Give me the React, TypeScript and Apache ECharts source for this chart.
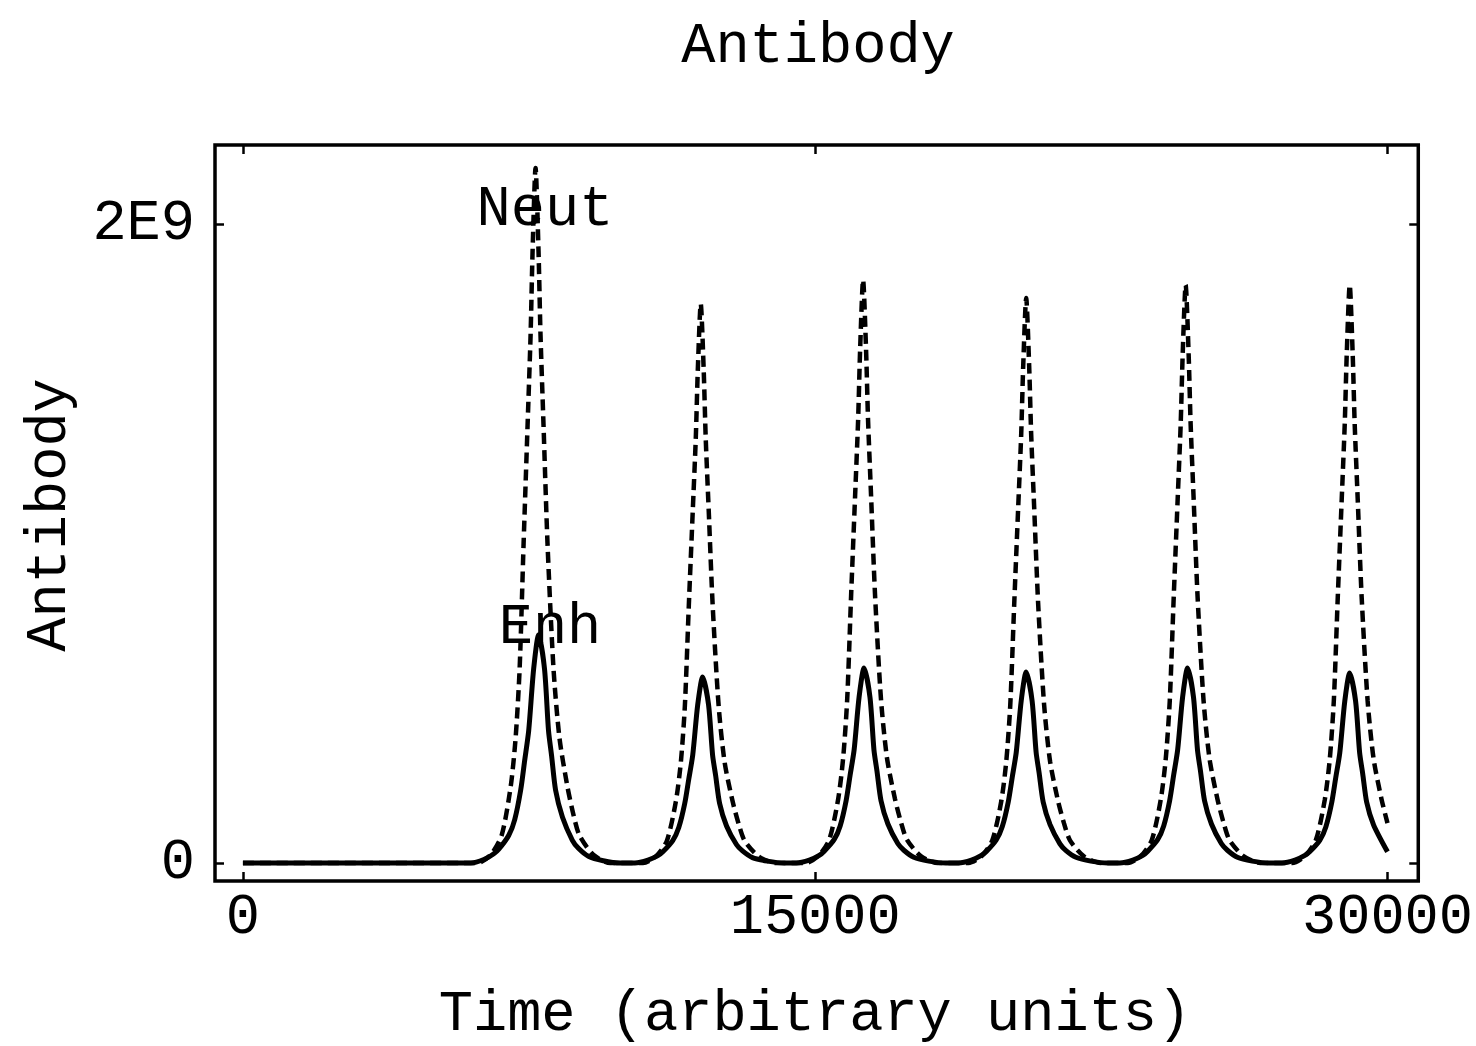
import React, { useEffect, useRef } from "react";
import * as echarts from "echarts";

// Axis ticks and labels
const xTickValues = [0, 15000, 30000];
const xTickLabels = ["0", "15000", "30000"];
const yTickValues = [0, 2];
const yTickLabels = ["0", "2E9"];

const chartTitle = "Antibody";
const xAxisTitle = "Time (arbitrary units)";
const yAxisTitle = "Antibody";
const seriesNames = ["Enh", "Neut"];

// Enh (solid) — time, antibody (in units of 1E9)
const enhStart = [[0, 0]];
const enhPeak1 = [[5975, 0], [6315, 0.011], [6575, 0.029], [6706, 0.043], [6965, 0.086], [7124, 0.136], [7280, 0.228], [7385, 0.321], [7490, 0.414], [7620, 0.607], [7750, 0.714], [7905, 0.607], [8010, 0.414], [8090, 0.336], [8195, 0.228], [8376, 0.143], [8635, 0.071], [8794, 0.046], [9055, 0.021], [9445, 0.007], [9890, 0]];
const enhPeak2 = [[10275, 0], [10615, 0.009], [10875, 0.023], [11006, 0.035], [11265, 0.07], [11424, 0.111], [11580, 0.186], [11685, 0.262], [11790, 0.338], [11920, 0.495], [12050, 0.582], [12205, 0.495], [12310, 0.338], [12390, 0.274], [12495, 0.186], [12676, 0.116], [12935, 0.058], [13094, 0.038], [13355, 0.017], [13745, 0.006], [14190, 0]];
const enhPeak3 = [[14505, 0], [14845, 0.009], [15105, 0.024], [15236, 0.037], [15495, 0.073], [15654, 0.116], [15810, 0.195], [15915, 0.275], [16020, 0.354], [16150, 0.519], [16280, 0.61], [16435, 0.519], [16540, 0.354], [16620, 0.287], [16725, 0.195], [16906, 0.122], [17165, 0.061], [17324, 0.04], [17585, 0.018], [17975, 0.006], [18420, 0]];
const enhPeak4 = [[18755, 0], [19095, 0.009], [19355, 0.024], [19486, 0.036], [19745, 0.072], [19904, 0.114], [20060, 0.191], [20165, 0.269], [20270, 0.347], [20400, 0.508], [20530, 0.598], [20685, 0.508], [20790, 0.347], [20870, 0.281], [20975, 0.191], [21156, 0.12], [21415, 0.06], [21574, 0.039], [21835, 0.018], [22225, 0.006], [22670, 0]];
const enhPeak5 = [[22985, 0], [23325, 0.009], [23585, 0.024], [23716, 0.037], [23975, 0.073], [24134, 0.116], [24290, 0.195], [24395, 0.275], [24500, 0.354], [24630, 0.519], [24760, 0.61], [24915, 0.519], [25020, 0.354], [25100, 0.287], [25205, 0.195], [25386, 0.122], [25645, 0.061], [25804, 0.04], [26065, 0.018], [26455, 0.006], [26900, 0]];
const enhPeak6 = [[27235, 0], [27575, 0.009], [27835, 0.024], [27966, 0.036], [28225, 0.071], [28384, 0.113], [28540, 0.19], [28645, 0.268], [28750, 0.345], [28880, 0.506], [29010, 0.595], [29165, 0.506], [29270, 0.345], [29350, 0.28], [29455, 0.19], [29636, 0.119], [30000, 0.035]];

// Neut (dashed) — time, antibody (in units of 1E9)
const neutStart = [[0, 0]];
const neutPeak1 = [[6157, 0], [6496, 0.026], [6783, 0.087], [7018, 0.239], [7148, 0.392], [7253, 0.609], [7357, 1.001], [7461, 1.37], [7540, 1.653], [7592, 1.914], [7670, 2.175], [7748, 1.914], [7800, 1.653], [7879, 1.37], [7983, 1.001], [8140, 0.609], [8296, 0.392], [8505, 0.239], [8662, 0.152], [8818, 0.087], [9183, 0.026], [9627, 0]];
const neutPeak2 = [[10487, 0], [10826, 0.021], [11113, 0.07], [11348, 0.193], [11478, 0.315], [11583, 0.49], [11687, 0.805], [11791, 1.103], [11870, 1.33], [11922, 1.54], [12000, 1.75], [12078, 1.54], [12130, 1.33], [12209, 1.103], [12313, 0.805], [12470, 0.49], [12626, 0.315], [12835, 0.193], [12992, 0.123], [13148, 0.07], [13513, 0.021], [13957, 0]];
const neutPeak3 = [[14742, 0], [15081, 0.022], [15368, 0.073], [15603, 0.201], [15733, 0.329], [15838, 0.511], [15942, 0.84], [16046, 1.15], [16125, 1.387], [16177, 1.606], [16255, 1.825], [16333, 1.606], [16385, 1.387], [16464, 1.15], [16568, 0.84], [16725, 0.511], [16881, 0.329], [17090, 0.201], [17247, 0.128], [17403, 0.073], [17768, 0.022], [18212, 0]];
const neutPeak4 = [[19017, 0], [19356, 0.021], [19643, 0.071], [19878, 0.194], [20008, 0.318], [20113, 0.495], [20217, 0.813], [20321, 1.114], [20400, 1.344], [20452, 1.556], [20530, 1.768], [20608, 1.556], [20660, 1.344], [20739, 1.114], [20843, 0.813], [21000, 0.495], [21156, 0.318], [21365, 0.194], [21522, 0.124], [21678, 0.071], [22043, 0.021], [22487, 0]];
const neutPeak5 = [[23197, 0], [23536, 0.022], [23823, 0.072], [24058, 0.199], [24188, 0.326], [24293, 0.507], [24397, 0.832], [24501, 1.14], [24580, 1.375], [24632, 1.592], [24710, 1.809], [24788, 1.592], [24840, 1.375], [24919, 1.14], [25023, 0.832], [25180, 0.507], [25336, 0.326], [25545, 0.199], [25702, 0.127], [25858, 0.072], [26223, 0.022], [26667, 0]];
const neutPeak6 = [[27497, 0], [27836, 0.022], [28123, 0.072], [28358, 0.199], [28488, 0.326], [28593, 0.507], [28697, 0.832], [28801, 1.14], [28880, 1.375], [28932, 1.592], [29010, 1.809], [29088, 1.592], [29140, 1.375], [29219, 1.14], [29323, 0.832], [29480, 0.507], [29636, 0.326], [29845, 0.199], [30000, 0.125]];

const enhData = [...enhStart, ...enhPeak1, ...enhPeak2, ...enhPeak3, ...enhPeak4, ...enhPeak5, ...enhPeak6];
const neutData = [...neutStart, ...neutPeak1, ...neutPeak2, ...neutPeak3, ...neutPeak4, ...neutPeak5, ...neutPeak6];

const FONT = "'Liberation Mono', 'DejaVu Sans Mono', monospace";
const FS = 57;

export default function App() {
  const ref = useRef<HTMLDivElement>(null);
  useEffect(() => {
    if (!ref.current) return;
    const chart = echarts.init(ref.current, null, { renderer: "svg" });
    const xMin = -732;
    const xMax = 30807;
    const yMin = -0.0563;
    const yMax = 2.247;
    const tickStyle = { color: "#000", width: 2.5 };
    const hiddenLine = { show: false, onZero: false };
    chart.setOption({
      animation: false,
      backgroundColor: "#fff",
      grid: {
        left: 215,
        top: 145,
        width: 1207,
        height: 736,
        show: true,
        borderColor: "#000",
        borderWidth: 3.5,
        backgroundColor: "transparent",
      },
      xAxis: [
        {
          type: "value",
          min: xMin,
          max: xMax,
          axisLine: hiddenLine,
          splitLine: { show: false },
          axisTick: { show: true, inside: true, length: 9, lineStyle: tickStyle, customValues: xTickValues },
          axisLabel: {
            show: true,
            customValues: xTickValues,
            formatter: (v: number) => xTickLabels[xTickValues.indexOf(v)] ?? "",
            fontFamily: FONT,
            fontSize: FS,
            color: "#000",
            margin: 8,
            showMinLabel: true,
            showMaxLabel: true,
          },
        },
        {
          type: "value",
          position: "top",
          min: xMin,
          max: xMax,
          axisLine: hiddenLine,
          splitLine: { show: false },
          axisTick: { show: true, inside: true, length: 9, lineStyle: tickStyle, customValues: xTickValues },
          axisLabel: { show: false },
        },
      ],
      yAxis: [
        {
          type: "value",
          min: yMin,
          max: yMax,
          axisLine: hiddenLine,
          splitLine: { show: false },
          axisTick: { show: true, inside: true, length: 9, lineStyle: tickStyle, customValues: yTickValues },
          axisLabel: {
            show: true,
            customValues: yTickValues,
            formatter: (v: number) => yTickLabels[yTickValues.indexOf(v)] ?? "",
            fontFamily: FONT,
            fontSize: FS,
            color: "#000",
            margin: 20,
          },
        },
        {
          type: "value",
          position: "right",
          min: yMin,
          max: yMax,
          axisLine: hiddenLine,
          splitLine: { show: false },
          axisTick: { show: true, inside: true, length: 9, lineStyle: tickStyle, customValues: yTickValues },
          axisLabel: { show: false },
        },
      ],
      series: [
        {
          name: seriesNames[0],
          type: "line",
          xAxisIndex: 0,
          yAxisIndex: 0,
          data: enhData,
          showSymbol: false,
          symbol: "none",
          smooth: 0.25,
          lineStyle: { color: "#000", width: 5, type: "solid" },
          z: 3,
        },
        {
          name: seriesNames[1],
          type: "line",
          xAxisIndex: 0,
          yAxisIndex: 0,
          data: neutData,
          showSymbol: false,
          symbol: "none",
          smooth: 0.25,
          lineStyle: { color: "#000", width: 4.5, type: [11, 6] },
          z: 4,
        },
      ],
      graphic: [
        {
          type: "text",
          x: 818,
          y: 47,
          style: { text: chartTitle, font: `${FS}px ${FONT}`, fill: "#000", align: "center", verticalAlign: "middle" },
        },
        {
          type: "text",
          x: 815,
          y: 1015,
          style: { text: xAxisTitle, font: `${FS}px ${FONT}`, fill: "#000", align: "center", verticalAlign: "middle" },
        },
        {
          type: "text",
          x: 50,
          y: 515,
          rotation: Math.PI / 2,
          style: { text: yAxisTitle, font: `${FS}px ${FONT}`, fill: "#000", align: "center", verticalAlign: "middle" },
        },
        {
          type: "text",
          x: 545,
          y: 210,
          z: 10,
          style: { text: seriesNames[1], font: `${FS}px ${FONT}`, fill: "#000", align: "center", verticalAlign: "middle" },
        },
        {
          type: "text",
          x: 550,
          y: 628,
          z: 10,
          style: { text: seriesNames[0], font: `${FS}px ${FONT}`, fill: "#000", align: "center", verticalAlign: "middle" },
        },
      ],
    });
    return () => chart.dispose();
  }, []);
  return (
    <div
      ref={ref}
      style={{ position: "absolute", left: 0, top: 0, width: 1476, height: 1046, background: "#fff" }}
    />
  );
}
